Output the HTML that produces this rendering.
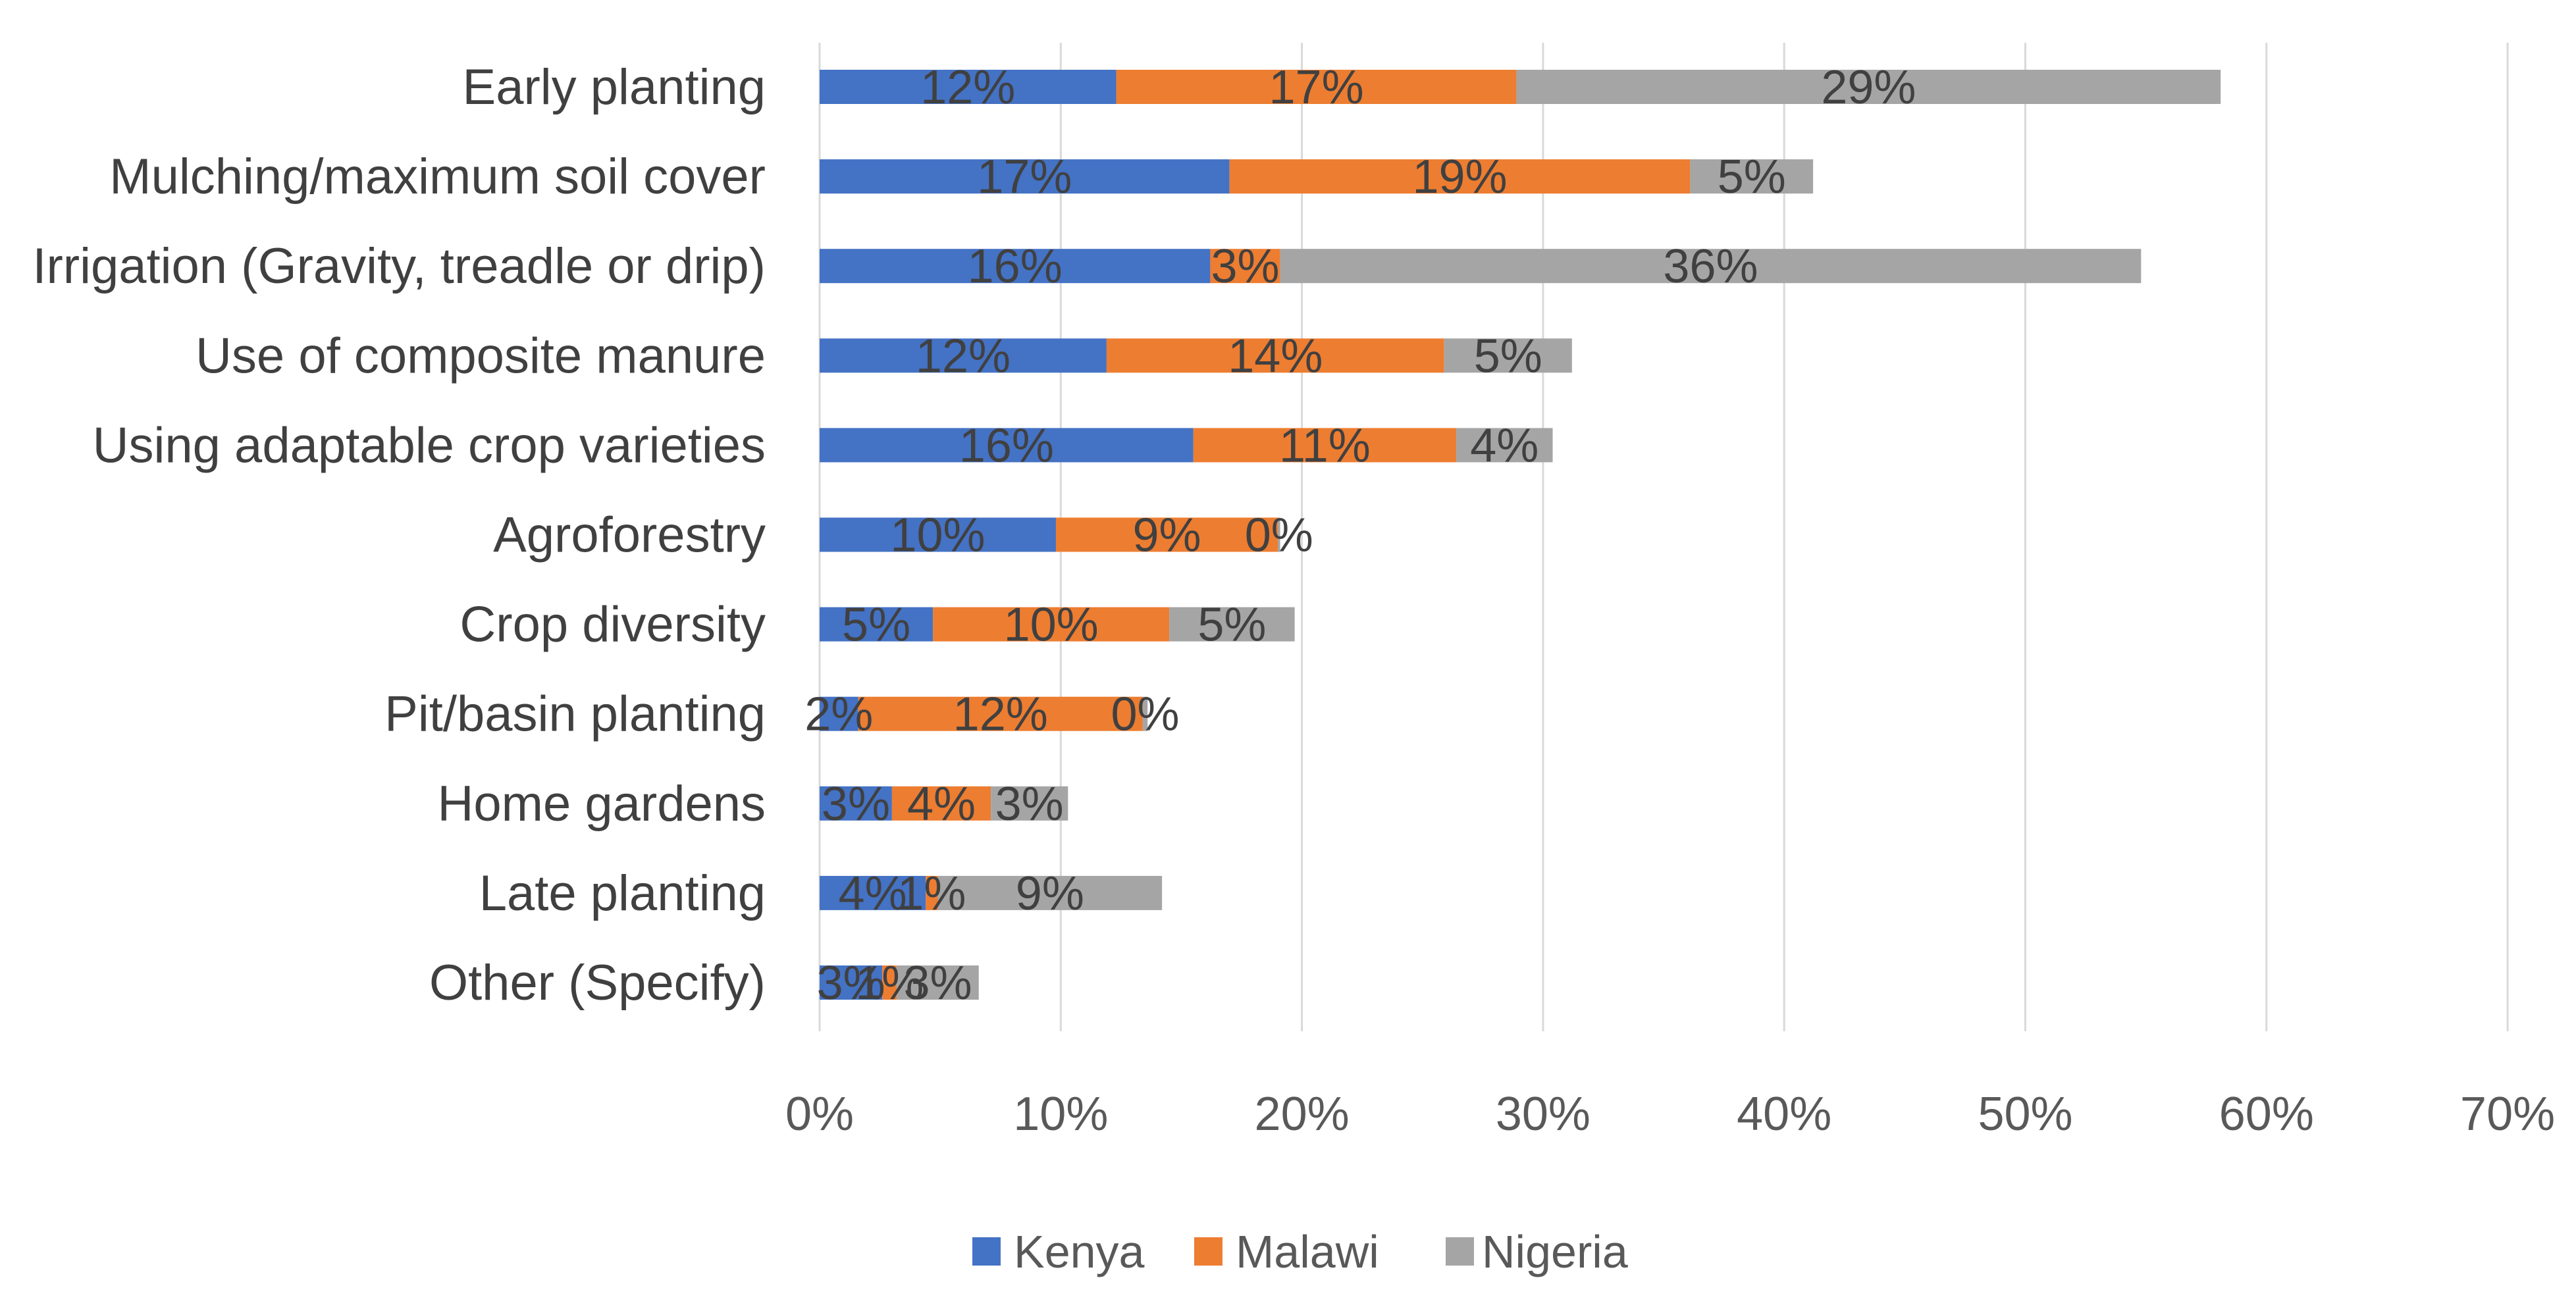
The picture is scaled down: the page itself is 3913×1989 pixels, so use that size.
<!DOCTYPE html>
<html><head><meta charset="utf-8"><style>
html,body{margin:0;padding:0;background:#fff;}
svg{display:block;font-family:"Liberation Sans",sans-serif;}
</style></head><body>
<svg id="chart" width="3913" height="1989" viewBox="0 0 3913 1989">
<g id="grid"></g>
<g id="xticks"></g>
<g id="cats"></g>
<g id="bars"></g>
<g id="labels"></g>
<g id="legend">
  <g><rect x="1477" y="1880" width="43" height="43" fill="#4472C4"/><text x="1540" y="1926" font-size="70" fill="#595959">Kenya</text></g>
  <g><rect x="1814" y="1880" width="43" height="43" fill="#ED7D31"/><text x="1877" y="1926" font-size="70" fill="#595959">Malawi</text></g>
  <g><rect x="2196" y="1880" width="43" height="43" fill="#A5A5A5"/><text x="2251" y="1926" font-size="70" fill="#595959">Nigeria</text></g>
</g>
</svg>
<script>
const categories = ["Early planting","Mulching/maximum soil cover","Irrigation (Gravity, treadle or drip)","Use of composite manure","Using adaptable crop varieties","Agroforestry","Crop diversity","Pit/basin planting","Home gardens","Late planting","Other (Specify)"];
const kenya = [12.3,17.0,16.2,11.9,15.5,9.8,4.7,1.6,3.0,4.4,2.6];
const malawi = [16.6,19.1,2.9,14.0,10.9,9.2,9.8,11.8,4.1,0.5,0.6];
const nigeria = [29.2,5.1,35.7,5.3,4.0,0.1,5.2,0.2,3.2,9.3,3.4];
const xTicks = [0,10,20,30,40,50,60,70];
const xTickLabels = ["0%","10%","20%","30%","40%","50%","60%","70%"];

const NS = "http://www.w3.org/2000/svg";
const x0 = 1245, pxPer = 36.63, yTop0 = 132, step = 136.1, barH = 52;
function xs(v){ return x0 + v*pxPer; }
function yc(i){ return yTop0 + i*step; }
function mk(tag, attrs, parent){ const e=document.createElementNS(NS,tag); for(const k in attrs) e.setAttribute(k,attrs[k]); parent.appendChild(e); return e; }

const grid=document.getElementById('grid'), xt=document.getElementById('xticks'), cats=document.getElementById('cats'), bars=document.getElementById('bars'), labels=document.getElementById('labels');
xTicks.forEach((t,i)=>{
  const l=mk('line',{x1:xs(t),x2:xs(t),y1:65,y2:1567,stroke:'#d9d9d9','stroke-width':3},grid);
  
  
  const tx=mk('text',{x:xs(t),y:1717,'font-size':72,fill:'#595959','text-anchor':'middle'},xt);
  tx.textContent=xTickLabels[i];
  
  
});
const series=[{d:kenya,c:'#4472C4',n:'kenya'},{d:malawi,c:'#ED7D31',n:'malawi'},{d:nigeria,c:'#A5A5A5',n:'nigeria'}];
categories.forEach((cat,i)=>{
  const t=mk('text',{x:1163,y:yc(i)+26,'font-size':76,fill:'#404040','text-anchor':'end'},cats);
  t.textContent=cat;
  
  
  let acc=0;
  series.forEach(s=>{
    const v=s.d[i];
    const r=mk('rect',{x:xs(acc),y:yc(i)-barH/2,width:Math.max(0,xs(acc+v)-xs(acc)),height:barH,fill:s.c},bars);
    
    
    const lb=mk('text',{x:(xs(acc)+xs(acc+v))/2,y:yc(i)+25,'font-size':72,fill:'#404040','text-anchor':'middle'},labels);
    lb.textContent=Math.round(v)+'%';
    
    
    acc+=v;
  });
});
</script>
</body></html>
